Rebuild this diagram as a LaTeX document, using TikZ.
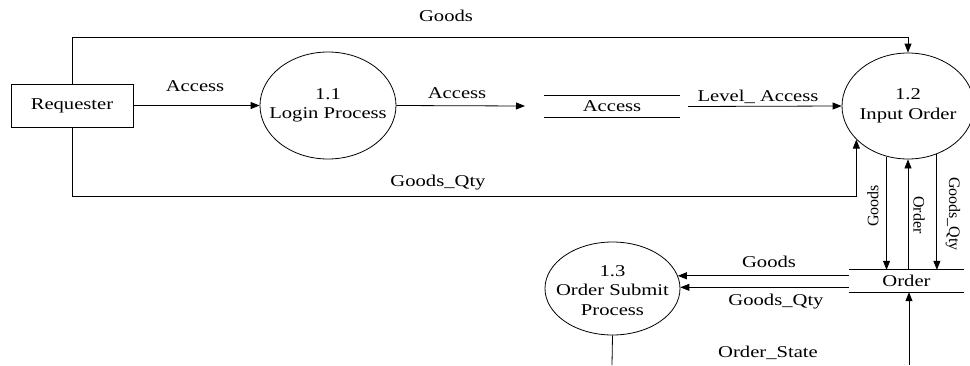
\documentclass[tikz,border=0pt]{standalone}
\usepackage{fontspec}
\setmainfont{Liberation Serif}[FakeStretch=1.25]
\newfontfamily\rotfont{Liberation Serif}
\usetikzlibrary{arrows.meta,shapes.geometric}
\begin{document}
\begin{tikzpicture}[x=1pt,y=-1pt,
  every node/.style={font=\fontsize{16.5}{19.5}\selectfont},
  ln/.style={draw=black,line width=0.8pt},
  flow/.style={ln,-{Triangle[length=9pt,width=7pt]}},
  proc/.style={draw,line width=0.8pt,ellipse,inner sep=0pt},
  ptext/.style={inner sep=0pt,align=center},
  ent/.style={draw,line width=0.8pt,rectangle,inner sep=0pt},
  store/.style={inner sep=0pt},
  lbl/.style={inner sep=0pt},
  rlbl/.style={inner sep=0pt,font=\rotfont\fontsize{16}{18}\selectfont}]
\useasboundingbox (0,0) rectangle (970,365);
% nodes
\node[ent,minimum width=122pt,minimum height=43pt] (req) at (72,105.5) {Requester};
\node[proc,minimum width=136pt,minimum height=107pt] (c11) at (328,105.5) {};
\node[ptext] (t11) at (c11) {1.1\\Login Process};
\node[proc,minimum width=132pt,minimum height=106pt] (c12) at (908,106) {};
\node[ptext] (t12) at (c12) {1.2\\Input Order};
\node[proc,minimum width=135pt,minimum height=93pt] (c13) at (612.5,288.5) {};
\node[ptext] (t13) at ([yshift=-2pt]c13) {1.3\\Order Submit\\Process};
\node[store,minimum width=136pt,minimum height=21pt] (as) at (612,106.5) {Access};
\node[store,minimum width=115pt,minimum height=22pt] (os) at (906.5,281) {Order};
\draw[ln] (as.north west) -- (as.north east) (as.south west) -- (as.south east);
\draw[ln] (os.north west) -- (os.north east) (os.south west) -- (os.south east);
% free ends
\coordinate (a1) at (525,106);
\coordinate (b1) at (612,365);
\coordinate (b2) at (909,365);
% connectors
\draw[flow] (req.north) |- (c12.north |- 0,37) -- (c12.north);
\draw[flow] (req.south) |- (c12.213.4 |- 0,196) -- (c12.213.4);
\draw[flow] (req.east) -- (c11.west);
\draw[flow] (c11.east) -- (a1);
\draw[flow] ([xshift=8pt]as.east) -- (c12.west);
\draw[flow] (c12.247.3) -- (c12.247.3 |- os.north);
\draw[flow] (os.north -| c12.south) -- (c12.south);
\draw[flow] (c12.301.4) -- (c12.301.4 |- os.north);
\draw[flow] (c13.11.8 -| os.west) -- (c13.11.8);
\draw[flow] (c13.1.3 -| os.west) -- (c13.1.3);
\draw[ln] (c13.south) -- (b1);
\draw[flow] (b2) -- (b2 |- os.south);
% labels
\node[lbl] (l1) at (446,16) {Goods};
\node[lbl] (l2) at (195,86) {Access};
\node[lbl] (l3) at (438,183) {Goods\_Qty};
\node[lbl] (l4) at (457,93) {Access};
\node[lbl] (l5) at (758,97) {Level\_ Access};
\node[rlbl,rotate=90] (l6) at (873,206) {Goods};
\node[rlbl,rotate=-90] (l7) at (919,215) {Order};
\node[rlbl,rotate=-90] (l8) at (953,214) {Goods\_Qty};
\node[lbl] (l9) at (769,262) {Goods};
\node[lbl] (l10) at (776,302) {Goods\_Qty};
\node[lbl] (l11) at (768,353) {Order\_State};
\end{tikzpicture}
\end{document}
